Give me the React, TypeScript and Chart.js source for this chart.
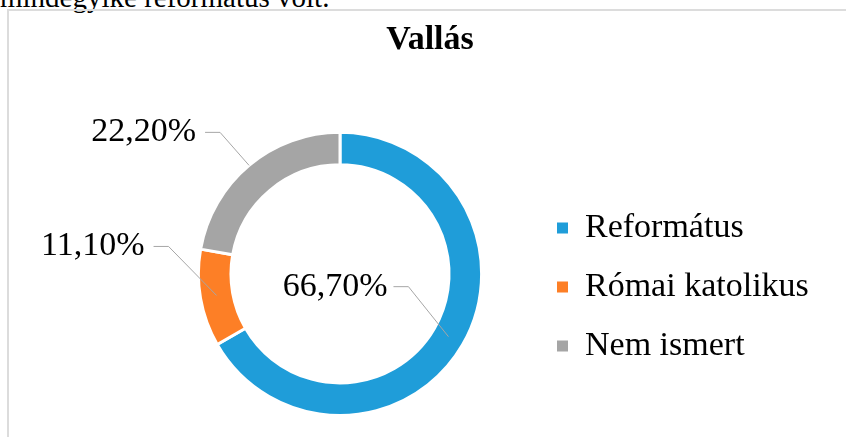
import React, { useEffect, useRef } from 'react';
import { Chart, registerables } from 'chart.js';

Chart.register(...registerables);

const categories = ['Református', 'Római katolikus', 'Nem ismert'];
const values = [66.7, 11.1, 22.2];
const colors = ['#1f9dd9', '#fd7f26', '#a5a5a5'];
const chartTitle = 'Vallás';
const captionAbove = 'mindegyike református volt.';

const FONT = '"Liberation Serif", "Times New Roman", serif';

// leader-line styling per slice (relative to the slice's own geometry)
const leaderStyle = [
  { rFrac: 0.5, elbow: [-40, -50], tail: 15, gap: 6 },
  { rFrac: 0.5, elbow: [-48, -49], tail: 15, gap: 9 },
  { rFrac: 1.0, elbow: [-29, -33], tail: 15, gap: 9 },
];

const fmt = (v: number) => v.toFixed(2).replace('.', ',') + '%';

const leaderLabels = {
  id: 'leaderLabels',
  afterLayout(chart: any) {
    // let the legend text run past the legend's nominal width without being clipped
    const lg = chart.legend;
    if (lg) {
      lg.right = lg.left + 320;
      lg.width = 320;
    }
  },
  afterDatasetsDraw(chart: any) {
    const meta = chart.getDatasetMeta(0);
    const ctx = chart.ctx;
    const ds = chart.data.datasets[0];
    ctx.save();
    meta.data.forEach((arc: any, i: number) => {
      const p = arc.getProps(['x', 'y', 'startAngle', 'endAngle', 'innerRadius', 'outerRadius'], true);
      const mid = (p.startAngle + p.endAngle) / 2;
      const st = leaderStyle[i];
      const r = p.innerRadius + (p.outerRadius - p.innerRadius) * st.rFrac;
      const ex = p.x + Math.cos(mid) * r;
      const ey = p.y + Math.sin(mid) * r;
      const bx = ex + st.elbow[0];
      const by = ey + st.elbow[1];
      const sx = bx - st.tail;
      ctx.beginPath();
      ctx.strokeStyle = '#a6a6a6';
      ctx.lineWidth = 1;
      ctx.moveTo(ex, ey);
      ctx.lineTo(bx, by);
      ctx.lineTo(sx, by);
      ctx.stroke();
      ctx.fillStyle = '#000';
      ctx.font = `34px ${FONT}`;
      ctx.textAlign = 'right';
      ctx.textBaseline = 'middle';
      ctx.fillText(fmt(ds.data[i]), sx - st.gap, by);
    });
    ctx.restore();
  },
};

export default function App() {
  const ref = useRef<HTMLCanvasElement | null>(null);

  useEffect(() => {
    if (!ref.current) return;
    const baseGen = (Chart as any).overrides.doughnut.plugins.legend.labels.generateLabels;
    const chart = new Chart(ref.current, {
      type: 'doughnut',
      data: {
        labels: categories,
        datasets: [
          {
            data: values,
            backgroundColor: colors,
            borderColor: '#ffffff',
            borderWidth: 3,
          },
        ],
      },
      options: {
        responsive: false,
        animation: false,
        cutout: '77%',
        layout: { padding: { left: 148, right: 134, top: 0, bottom: 20 } },
        plugins: {
          title: {
            display: true,
            text: chartTitle,
            color: '#000',
            font: { family: FONT, size: 34, weight: 'bold', lineHeight: 1.2 },
            padding: { top: 20, bottom: 70 },
          },
          legend: {
            position: 'right',
            fullSize: false,
            maxWidth: 180,
            title: { display: true, text: '', font: { size: 20, lineHeight: 1.3 }, padding: 0 },
            labels: {
              boxWidth: 11,
              boxHeight: 11,
              padding: 25,
              color: '#000',
              font: { family: FONT, size: 34 },
              generateLabels: (c: any) => baseGen(c).map((l: any) => ({ ...l, lineWidth: 0 })),
            },
          },
          tooltip: { enabled: false },
        },
      } as any,
      plugins: [leaderLabels],
    });
    return () => chart.destroy();
  }, []);

  return (
    <div
      style={{
        position: 'absolute',
        left: 0,
        top: 0,
        width: 846,
        height: 437,
        overflow: 'hidden',
        background: '#fff',
      }}
    >
      <div
        style={{
          position: 'absolute',
          left: 0,
          top: -17,
          fontFamily: FONT,
          fontSize: 29,
          lineHeight: '28px',
          color: '#000',
          whiteSpace: 'nowrap',
        }}
      >
        {captionAbove}
      </div>
      <div
        style={{
          position: 'absolute',
          left: 7,
          top: 9,
          width: 900,
          height: 500,
          border: '2px solid #dcdcdc',
          boxSizing: 'border-box',
        }}
      />
      <canvas
        ref={ref}
        width={846}
        height={437}
        style={{ position: 'absolute', left: 0, top: 0, display: 'block' }}
      />
    </div>
  );
}
